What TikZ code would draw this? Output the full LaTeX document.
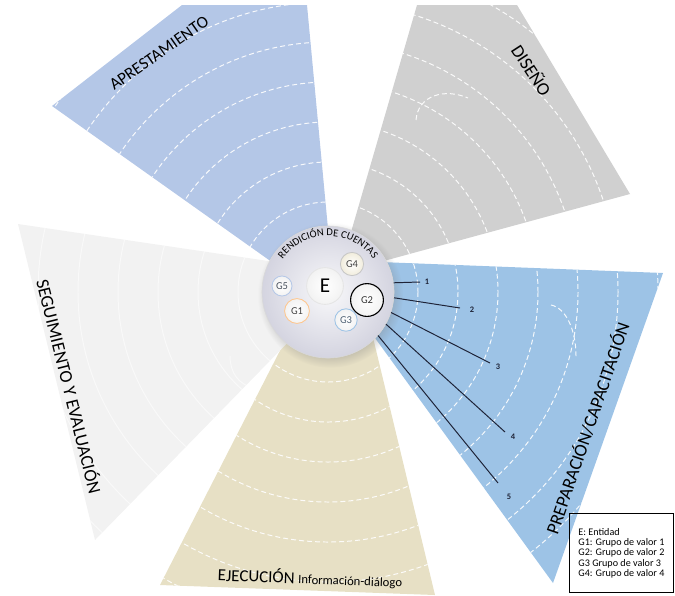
\documentclass[tikz,border=0pt]{standalone}
\usepackage{fontspec}
\setmainfont{Carlito}
\usepackage{tikz}
\usetikzlibrary{positioning,shadows,decorations.text}
\definecolor{aprest}{RGB}{180,199,231}
\definecolor{disenio}{RGB}{208,208,208}
\definecolor{prepar}{RGB}{157,195,230}
\definecolor{ejecu}{RGB}{231,224,197}
\definecolor{segui}{RGB}{242,242,242}
\definecolor{discgray}{RGB}{212,212,224}
\definecolor{lineink}{RGB}{30,35,55}
\tikzset{
  ring/.style={white, line width=.7pt, dash pattern=on 3.5pt off 2.2pt, opacity=.9},
  faint ring/.style={white, line width=.7pt, opacity=.55},
  wedge label/.style={font=\fontsize{13}{13}\selectfont, inner sep=0pt},
}
% wedge outlines (pixel coordinates)
\def\wApres{(300,282) -- (52,106) -- (182,5) -- (307,5) -- (330,250) -- cycle}
\def\wDisen{(340,270) -- (417,5) -- (517,5) -- (630,194) -- (380,262) -- cycle}
\def\wPrepa{(380,262) -- (663,273) -- (553,583) -- (375,338) -- cycle}
\def\wEjecu{(290,331) -- (160,585) -- (435,595) -- (370,325) -- cycle}
\def\wSegui{(18,224) -- (275,262) -- (300,330) -- (95,540) -- cycle}

\begin{document}
\begin{tikzpicture}[x=0.025cm, y=-0.025cm,
  disc/.style={circle, minimum size=3.3cm, draw=gray!30, line width=.4pt,
    shading=radial, inner color=white!85!discgray, outer color=discgray,
    circular drop shadow={shadow xshift=1.5pt, shadow yshift=-2pt, opacity=.3}},
  group/.style={circle, draw=#1, line width=.6pt, inner sep=0pt,
    shading=radial, inner color=white, outer color=white!90!gray,
    font=\fontsize{7.5}{8}\selectfont},
  num/.style={font=\bfseries\fontsize{6}{6}\selectfont, inner sep=0pt, text=lineink},
  pointer/.style={draw=lineink, line width=.7pt},
  legend/.style={draw, line width=.6pt, anchor=north west, minimum width=2.6cm,
    minimum height=1.98cm, inner xsep=0pt, align=left,
    font=\fontsize{7.2}{7.3}\selectfont}
  ]
  \useasboundingbox (0,0) rectangle (675,595);
  % Wedges
  \foreach \w/\c/\s in {\wApres/aprest/ring, \wDisen/disenio/ring, \wPrepa/prepar/ring,
                        \wEjecu/ejecu/ring, \wSegui/segui/faint ring}{
    \fill[\c] \w;
    \begin{scope}
      \clip \w;
      \foreach \r in {90,130,...,410}
        \draw[\s] (328,292) circle[radius=\r];
    \end{scope}
  }
  % hooks
  \draw[ring] (416,120) .. controls (418,95) and (445,88) .. (468,98);
  \draw[ring] (551,305) .. controls (566,308) and (576,330) .. (576,356);
  \draw[faint ring] (255,388) .. controls (238,385) and (230,372) .. (230,356);
  % Disc
  \node[disc] (rc) at (328,292) {};
  \path[decorate, decoration={text along path, text align=center,
      text format delimiters={|}{|},
      text={|\fontsize{7.5}{8}\selectfont|RENDICIÓN DE CUENTAS}}]
    (328,292) ++(-150:56) arc[start angle=-150, end angle=-30, radius=56];
  % Groups
  \node[group=gray!20, minimum size=0.92cm, font=\fontsize{15}{15}\selectfont] (E) at (325,286) {E};
  \node[group=gray!45, minimum size=0.58cm, outer color=ejecu!60, text=black!75] (G4) at (352,264) {G4};
  \node[group=aprest, minimum size=0.5cm, text=aprest!40!black] (G5) at (282,286) {G5};
  \node[group=orange!45, minimum size=0.62cm, text=black!75] (G1) at (297,311) {G1};
  \node[group=black, line width=.8pt, minimum size=0.82cm, text=black!80] (G2) at (367,300) {G2};
  \node[group=prepar, minimum size=0.56cm, text=prepar!50!black] (G3) at (346,320) {G3};
  % Numbered lines
  \coordinate (e1) at (420,282);
  \coordinate (e2) at (460,308);
  \coordinate (e3) at (490,363);
  \coordinate (e4) at (505,432);
  \coordinate (e5) at (498,483);
  \node[num] (n1) at (427,282) {1};
  \node[num] (n2) at (472,310) {2};
  \node[num] (n3) at (498,367) {3};
  \node[num] (n4) at (513,437) {4};
  \node[num] (n5) at (509,497) {5};
  \draw[pointer] (rc.8.7) -- (e1);
  \draw[pointer] (rc.-5.3) -- (e2);
  \draw[pointer] (rc.-18) -- (e3);
  \draw[pointer] (rc.-29) -- (e4);
  \draw[pointer] (rc.-41) -- (e5);
  % Wedge labels
  \node[wedge label, rotate=35, font=\fontsize{12}{12}\selectfont] (Lap) at (159,53) {APRESTAMIENTO};
  \node[wedge label, rotate=-57] (Ldi) at (532,70) {DISEÑO};
  \node[wedge label, rotate=71] (Lpr) at (587,428) {PREPARACIÓN/CAPACITACIÓN};
  \node[wedge label, rotate=-76] (Lse) at (70,386) {SEGUIMIENTO Y EVALUACIÓN};
  \node[inner sep=0pt, rotate=-2] (Lej) at (310,578)
    {\fontsize{12}{12}\selectfont EJECUCIÓN {\fontsize{9}{9}\selectfont Información-diálogo}};
  % Legend
  \node[legend] (key) at (569,513) {E: Entidad\\ G1: Grupo de valor 1\\ G2: Grupo de valor 2\\
    G3 Grupo de valor 3\\ G4: Grupo de valor 4};
\end{tikzpicture}
\end{document}
